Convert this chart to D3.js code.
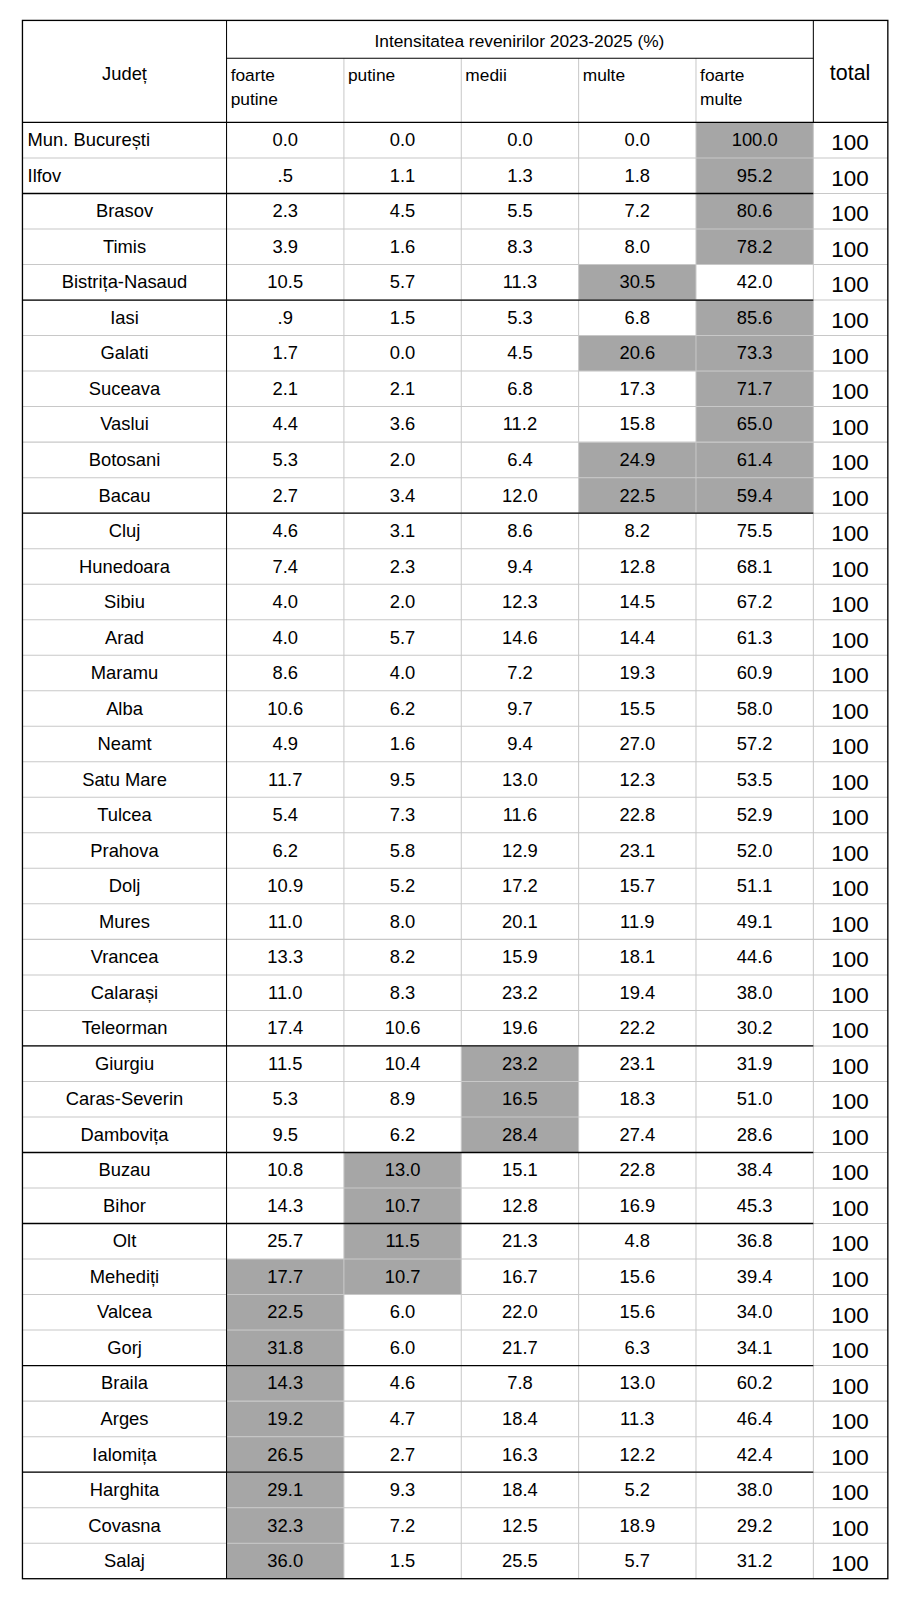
<!DOCTYPE html>
<html><head><meta charset="utf-8">
<script src="https://cdn.jsdelivr.net/npm/d3@7"></script>
<style>body{margin:0;background:#fff}svg{font-family:"Liberation Sans",Arial,sans-serif}</style>
</head><body><svg id="c" width="908" height="1600"></svg>
<script>
const title = "Intensitatea revenirilor 2023-2025 (%)";
const colHeaders = [["foarte","putine"],["putine"],["medii"],["multe"],["foarte","multe"]];
const counties = ["Mun. București","Ilfov","Brasov","Timis","Bistrița-Nasaud","Iasi","Galati","Suceava","Vaslui","Botosani","Bacau","Cluj","Hunedoara","Sibiu","Arad","Maramu","Alba","Neamt","Satu Mare","Tulcea","Prahova","Dolj","Mures","Vrancea","Calarași","Teleorman","Giurgiu","Caras-Severin","Dambovița","Buzau","Bihor","Olt","Mehediți","Valcea","Gorj","Braila","Arges","Ialomița","Harghita","Covasna","Salaj"];
const values = [
["0.0","0.0","0.0","0.0","100.0"],[".5","1.1","1.3","1.8","95.2"],["2.3","4.5","5.5","7.2","80.6"],["3.9","1.6","8.3","8.0","78.2"],["10.5","5.7","11.3","30.5","42.0"],
[".9","1.5","5.3","6.8","85.6"],["1.7","0.0","4.5","20.6","73.3"],["2.1","2.1","6.8","17.3","71.7"],["4.4","3.6","11.2","15.8","65.0"],["5.3","2.0","6.4","24.9","61.4"],["2.7","3.4","12.0","22.5","59.4"],
["4.6","3.1","8.6","8.2","75.5"],["7.4","2.3","9.4","12.8","68.1"],["4.0","2.0","12.3","14.5","67.2"],["4.0","5.7","14.6","14.4","61.3"],["8.6","4.0","7.2","19.3","60.9"],["10.6","6.2","9.7","15.5","58.0"],["4.9","1.6","9.4","27.0","57.2"],["11.7","9.5","13.0","12.3","53.5"],["5.4","7.3","11.6","22.8","52.9"],["6.2","5.8","12.9","23.1","52.0"],["10.9","5.2","17.2","15.7","51.1"],["11.0","8.0","20.1","11.9","49.1"],["13.3","8.2","15.9","18.1","44.6"],["11.0","8.3","23.2","19.4","38.0"],["17.4","10.6","19.6","22.2","30.2"],
["11.5","10.4","23.2","23.1","31.9"],["5.3","8.9","16.5","18.3","51.0"],["9.5","6.2","28.4","27.4","28.6"],
["10.8","13.0","15.1","22.8","38.4"],["14.3","10.7","12.8","16.9","45.3"],
["25.7","11.5","21.3","4.8","36.8"],["17.7","10.7","16.7","15.6","39.4"],["22.5","6.0","22.0","15.6","34.0"],["31.8","6.0","21.7","6.3","34.1"],
["14.3","4.6","7.8","13.0","60.2"],["19.2","4.7","18.4","11.3","46.4"],["26.5","2.7","16.3","12.2","42.4"],
["29.1","9.3","18.4","5.2","38.0"],["32.3","7.2","12.5","18.9","29.2"],["36.0","1.5","25.5","5.7","31.2"]];
const totals = counties.map(()=> "100");
// highlighted column indexes per row
const highlights = [[4],[4],[4],[4],[3],[4],[3,4],[4],[4],[3,4],[3,4],[],[],[],[],[],[],[],[],[],[],[],[],[],[],[],[2],[2],[2],[1],[1],[1],[0,1],[0],[0],[0],[0],[0],[0],[0],[0]];
const groupEnds = [1,4,10,25,28,30,34,37];
const leftAligned = [0,1];

const svg = d3.select("#c").append("g").attr("transform","scale(1.0205)");
const colEdges = [22,222,337,452,567,682,797,870];
const top0 = 20, headMid = 57, dataTop = 120, bottom = 1547;
const y = d3.scaleBand().domain(d3.range(counties.length)).range([dataTop,bottom]);
const rh = y.bandwidth();

highlights.forEach((hs,i)=>hs.forEach(c=>{
  svg.append("rect").attr("x",colEdges[c+1]).attr("y",y(i)).attr("width",colEdges[c+2]-colEdges[c+1]).attr("height",rh).attr("fill","#a6a6a6");
}));
counties.forEach((_,i)=>{ if(i>0) svg.append("line").attr("x1",colEdges[0]).attr("x2",colEdges[7]).attr("y1",y(i)).attr("y2",y(i)).attr("stroke","#c8c8c8").attr("stroke-width",1);});
colEdges.slice(1,6).forEach(x=>svg.append("line").attr("x1",x).attr("x2",x).attr("y1",headMid).attr("y2",bottom).attr("stroke","#c8c8c8"));
svg.append("line").attr("x1",222).attr("x2",222).attr("y1",top0).attr("y2",bottom).attr("stroke","#000");
svg.append("line").attr("x1",797).attr("x2",797).attr("y1",top0).attr("y2",dataTop).attr("stroke","#000");
svg.append("line").attr("x1",797).attr("x2",797).attr("y1",dataTop).attr("y2",bottom).attr("stroke","#c8c8c8");
svg.append("line").attr("x1",222).attr("x2",797).attr("y1",headMid).attr("y2",headMid).attr("stroke","#000");
groupEnds.forEach(i=>svg.append("line").attr("x1",colEdges[0]).attr("x2",colEdges[6]).attr("y1",y(i)+rh).attr("y2",y(i)+rh).attr("stroke","#000").attr("stroke-width",1.3));
svg.append("line").attr("x1",22).attr("x2",870).attr("y1",dataTop).attr("y2",dataTop).attr("stroke","#000").attr("stroke-width",1.3);
svg.append("rect").attr("x",22).attr("y",top0).attr("width",848).attr("height",bottom-top0).attr("fill","none").attr("stroke","#000").attr("stroke-width",1.3);

svg.append("text").attr("x",509).attr("y",46).attr("text-anchor","middle").attr("font-size",17).text(title);
svg.append("text").attr("x",122).attr("y",78).attr("text-anchor","middle").attr("font-size",18).text("Județ");
svg.append("text").attr("x",833).attr("y",78).attr("text-anchor","middle").attr("font-size",21).text("total");
colHeaders.forEach((h,c)=>h.forEach((t,k)=>svg.append("text").attr("x",colEdges[c+1]+4).attr("y",79+k*24).attr("font-size",17).text(t)));

counties.forEach((name,i)=>{
  const cy = y(i)+rh/2+6;
  const la = leftAligned.includes(i);
  svg.append("text").attr("x",la?27:122).attr("y",cy).attr("text-anchor",la?"start":"middle").attr("font-size",18).text(name);
  values[i].forEach((v,c)=>svg.append("text").attr("x",(colEdges[c+1]+colEdges[c+2])/2).attr("y",cy).attr("text-anchor","middle").attr("font-size",18).text(v));
  svg.append("text").attr("x",833).attr("y",cy+4).attr("text-anchor","middle").attr("font-size",22).text(totals[i]);
});
</script></body></html>
